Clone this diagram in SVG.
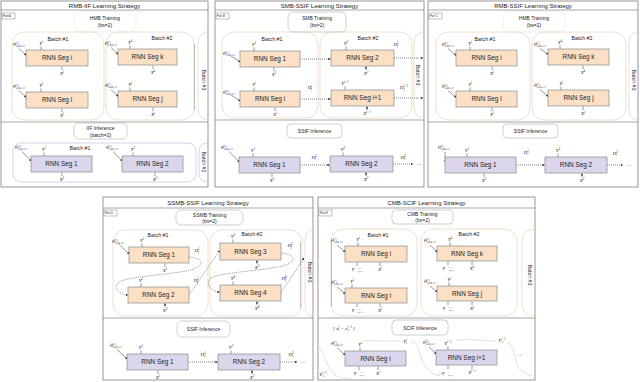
<svg xmlns="http://www.w3.org/2000/svg" width="640" height="382" viewBox="0 0 640 382">
<defs>
<style>
.pn{fill:#fff;stroke:#6b6b6b;stroke-width:.7}
.sep{stroke:#6b6b6b;stroke-width:.6}
.ob{fill:#fbe0c6;stroke:#8a8a8a;stroke-width:.7}
.pb{fill:#dcd6ec;stroke:#8a8a8a;stroke-width:.7}
.bt{fill:none;stroke:#e6cbab;stroke-width:.6}
.bp{fill:none;stroke:#bdb3dc;stroke-width:.6}
.be{stroke:#9a9a9a;stroke-width:.6}
.lb{fill:#fff;stroke:#b0b0b0;stroke-width:.6}
.lbd{fill:none;stroke:#d2d2d2;stroke-width:.6;stroke-dasharray:1.5 1}
.tgb{fill:#fff;stroke:#666;stroke-width:.4}
.t{font-family:"Liberation Sans",Arial,sans-serif;fill:#222;text-anchor:middle}
.nl{font-size:6.4px}
.ti{font-size:6px}
.bl{font-size:5.3px}
.tr{font-size:5px}
.tg{font-size:2.8px;text-anchor:start}
.m{font-family:"Liberation Serif","Times New Roman",serif;font-style:italic;font-size:5px;fill:#222;text-anchor:middle}
.th{font-family:"DejaVu Serif","Liberation Serif",serif;font-style:italic;font-size:4.6px;fill:#222;text-anchor:start}
.st{text-anchor:start}
.s{font-size:3.2px}
.ss{font-size:2.7px}
.ar{stroke:#333;stroke-width:.5;fill:none;marker-end:url(#ah)}
.dt{stroke:#333;stroke-width:.6;fill:none;stroke-dasharray:1 1;marker-end:url(#ah)}
.dc{stroke:#444;stroke-width:.5;fill:none;stroke-dasharray:1.2 .9}
.dca{stroke:#444;stroke-width:.5;fill:none;stroke-dasharray:1.2 .9;marker-end:url(#ah)}
.gc{stroke:#999;stroke-width:.45;fill:none;stroke-dasharray:1.5 .8}
</style>
<marker id="ah" viewBox="0 0 6 6" refX="5.5" refY="3" markerWidth="2.4" markerHeight="2.4" markerUnits="userSpaceOnUse" orient="auto"><path d="M0,0L6,3L0,6z" fill="#222"/></marker>
</defs>
<rect x="0" y="0" width="640" height="382" fill="#fff"/>

<g id="panels">
<rect class="pn" x="1" y="1" width="207" height="186"/>
<line class="sep" x1="1" y1="10" x2="208" y2="10"/>
<line class="sep" x1="1" y1="122" x2="208" y2="122"/>
<text class="t ti" x="104.5" y="7.6">RMB-IIF Learning Strategy</text>
<rect class="tgb" x="2" y="13" width="13" height="6"/><text class="t tg" x="3" y="17">Part A</text>

<rect class="pn" x="215" y="1" width="209" height="186"/>
<line class="sep" x1="215" y1="10" x2="424" y2="10"/>
<line class="sep" x1="215" y1="120" x2="424" y2="120"/>
<text class="t ti" x="319.5" y="7.6">SMB-SSIF Learning Strategy</text>
<rect class="tgb" x="216" y="13" width="13" height="6"/><text class="t tg" x="217" y="17">Part B</text>

<rect class="pn" x="428" y="1" width="210" height="186"/>
<line class="sep" x1="428" y1="10" x2="638" y2="10"/>
<line class="sep" x1="428" y1="122" x2="638" y2="122"/>
<text class="t ti" x="533" y="7.6">RMB-SSIF Learning Strategy</text>
<rect class="tgb" x="429" y="13" width="13" height="6"/><text class="t tg" x="430" y="17">Part C</text>

<rect class="pn" x="103" y="197" width="210" height="183"/>
<line class="sep" x1="103" y1="208" x2="313" y2="208"/>
<line class="sep" x1="103" y1="318" x2="313" y2="318"/>
<text class="t ti" x="208" y="204.6">SSMB-SSIF Learning Strategy</text>
<rect class="tgb" x="104" y="210" width="13" height="6"/><text class="t tg" x="105" y="214">Part D</text>

<rect class="pn" x="318" y="197" width="217" height="183"/>
<line class="sep" x1="318" y1="208" x2="535" y2="208"/>
<line class="sep" x1="318" y1="318" x2="535" y2="318"/>
<text class="t ti" x="426.5" y="204.6">CMB-SCIF Learning Strategy</text>
<rect class="tgb" x="319" y="210" width="13" height="6"/><text class="t tg" x="320" y="214">Part E</text>
</g>

<g id="phase-labels">
<rect class="lbd" x="74" y="11" width="62" height="21" rx="8"/>
<text class="t tr" x="105" y="20">HMB Training</text><text class="t tr" x="105" y="27">(bs=2)</text>
<rect class="lb" x="74" y="123" width="53" height="16" rx="5"/>
<text class="t tr" x="100.5" y="130">IIF Inference</text><text class="t tr" x="100.5" y="136.5">(batch=2)</text>

<rect class="lb" x="288" y="12" width="58" height="20" rx="5"/>
<text class="t tr" x="317" y="20">SMB Training</text><text class="t tr" x="317" y="27">(bs=2)</text>
<rect class="lb" x="287" y="124" width="55" height="14" rx="4"/>
<text class="t tr" x="314.5" y="132.8">SSIF Inference</text>

<rect class="lbd" x="503" y="11" width="62" height="21" rx="8"/>
<text class="t tr" x="534" y="20">HMB Training</text><text class="t tr" x="534" y="27">(bs=2)</text>
<rect class="lb" x="503" y="124" width="55" height="14" rx="4"/>
<text class="t tr" x="530.5" y="132.8">SSIF Inference</text>

<rect class="lb" x="176" y="210" width="67" height="15" rx="5"/>
<text class="t tr" x="209.5" y="216.5">SSMB Training</text><text class="t tr" x="209.5" y="222.5">(bs=2)</text>
<rect class="lb" x="177" y="321" width="53" height="16" rx="5"/>
<text class="t tr" x="203.5" y="330.8">SSIF Inference</text>

<rect class="lb" x="392" y="210" width="61" height="14" rx="4"/>
<text class="t tr" x="422.5" y="216">CMB Training</text><text class="t tr" x="422.5" y="222">(bs=2)</text>
<rect class="lb" x="392" y="320" width="56" height="15" rx="4"/>
<text class="t tr" x="420" y="329.5">SCIF Inference</text>
<text class="m st" x="333" y="329.5">[ x<tspan class="s" dy="-1.8">i</tspan><tspan class="s" dx="-1" dy="3">t</tspan><tspan dy="-1.2"> = x</tspan><tspan class="s" dy="-1.8">i−1</tspan><tspan class="s" dx="-4" dy="3">t</tspan><tspan dy="-1.2" dx="3"> ]</tspan></text>
</g>

<g id="batches">
<rect class="bt" x="12" y="32" width="92" height="88" rx="12"/>
<rect class="bt" x="106" y="32" width="88" height="88" rx="12"/>
<path class="bt" d="M208,32 Q198,32 198,44 L198,108 Q198,120 208,120"/>
<line class="be" x1="194.5" y1="44" x2="194.5" y2="110"/>
<text class="t bl" x="58" y="41">Batch #1</text>
<text class="t bl" x="162" y="40">Batch #2</text>
<text class="t bl" transform="translate(202,80) rotate(90)">Batch #3</text>
<rect class="bp" x="13" y="143" width="183" height="39" rx="8"/>
<path class="bp" d="M208,143 Q199,143 199,152 L199,173 Q199,182 208,182"/>
<text class="t bl" x="80" y="150">Batch #1</text>
<text class="t bl" transform="translate(202,162) rotate(90)">Batch #2</text>

<rect class="bt" x="222" y="32" width="96" height="86" rx="12"/>
<rect class="bt" x="320" y="32" width="92" height="86" rx="12"/>
<path class="bt" d="M424,32 Q414,32 414,44 L414,106 Q414,118 424,118"/>
<text class="t bl" x="272" y="41">Batch #1</text>
<text class="t bl" x="368" y="40">Batch #2</text>
<text class="t bl" transform="translate(416,75) rotate(90)">Batch #3</text>

<rect class="bt" x="436" y="32" width="94" height="88" rx="12"/>
<rect class="bt" x="532" y="32" width="94" height="88" rx="12"/>
<path class="bt" d="M638,32 Q629,32 629,44 L629,108 Q629,120 638,120"/>
<text class="t bl" x="485" y="41">Batch #1</text>
<text class="t bl" x="582" y="40">Batch #2</text>
<text class="t bl" transform="translate(632,80) rotate(90)">Batch #3</text>

<rect class="bt" x="113" y="230" width="95" height="86" rx="12"/>
<rect class="bt" x="210" y="230" width="92" height="86" rx="12"/>
<path class="bt" d="M313,230 Q305,230 305,242 L305,304 Q305,316 313,316"/>
<line class="be" x1="300.5" y1="242" x2="300.5" y2="308"/>
<text class="t bl" x="158" y="236.5">Batch #1</text>
<text class="t bl" x="252" y="236">Batch #2</text>
<text class="t bl" transform="translate(308,272) rotate(90)">Batch #3</text>

<rect class="bt" x="331" y="229" width="86" height="87" rx="12"/>
<rect class="bt" x="421" y="229" width="96" height="87" rx="12"/>
<path class="bt" d="M535,229 Q522,229 522,241 L522,304 Q522,316 535,316"/>
<line class="be" x1="331.5" y1="241" x2="331.5" y2="306"/>
<text class="t bl" x="378" y="237">Batch #1</text>
<text class="t bl" x="469" y="236">Batch #2</text>
<text class="t bl" transform="translate(528,275) rotate(90)">Batch #3</text>
</g>

<g id="connectors">
<path class="ar" d="M41,50V46.4M62,70.2V66.4M19,48.5L26.3,55.5"/>
<path class="ar" d="M41,92V88.4M62,112.2V108.4M19,90.5L26.3,97.5"/>
<path class="ar" d="M130,49V45.4M153,69.2V65.4M111,47.5L118.3,54.5"/>
<path class="ar" d="M130,91V87.4M153,111.2V107.4M111,89.5L118.3,96.5"/>
<path class="ar" d="M44,156V152.4M62,176.2V172.4M22,151.5L31.3,161"/>
<path class="ar" d="M133,156V152.4M155,176.2V172.4M113,151.5L122.3,161"/>
<path class="ar" d="M254,51V47.4M274,71.2V67.4M231,56L240.3,62"/>
<path class="ar" d="M346,50V46.4M366,70.2V66.4"/>
<path class="ar" d="M254,91V87.4M275,111.2V107.4M231,95L240.3,101"/>
<path class="ar" d="M345,90V86.4M367,110.2V106.4"/>
<path class="ar" d="M253,157V153.4M272,177.2V173.4M229,151.5L239.3,162"/>
<path class="ar" d="M343,156V152.4M366,176.2V172.4"/>
<path class="dt" d="M300,59H330.6"/><path class="dt" d="M394,58H423"/>
<path class="dt" d="M300,99H330.6"/><path class="dt" d="M394,98H423"/>
<path class="dt" d="M300,165H329.6"/><path class="dt" d="M393,164H413"/>
<path class="ar" d="M470,50V46.4M492,70.2V66.4M448,48.5L456.3,55.5"/>
<path class="ar" d="M560,49V45.4M583,69.2V65.4M540,48.5L548.3,54.5"/>
<path class="ar" d="M470,91V87.4M492,111.2V107.4M448,90.5L456.3,97.5"/>
<path class="ar" d="M561,90V86.4M583,110.2V106.4M540,89.5L548.3,96.5"/>
<path class="ar" d="M467,157V153.4M484,177.2V173.4M445,152L445.3,162"/>
<path class="ar" d="M558,157V153.4M582,177.2V173.4"/>
<path class="dt" d="M516,165H544.6"/><path class="dt" d="M607,165H623"/>
<path class="ar" d="M142,247V243.4M165,267.2V263.4M119,244.5L129.3,254"/>
<path class="ar" d="M141,287V283.4M165,307.2V303.4"/>
<path class="ar" d="M233,243V239.4M257,264.2V260.4"/>
<path class="ar" d="M233,285V281.4M257,305.2V301.4"/>
<path class="ar" d="M141,354V350.4M158,374.2V370.4M117,349.5L127.3,359"/>
<path class="ar" d="M231,354V350.4M252,374.2V370.4"/>
<path class="dca" d="M189,257 C204,258 206,266 190,270 C170,275 130,276 119,282 C113,286 117,294 128,295"/>
<path class="dca" d="M189,295 L219.6,250.5"/>
<path class="dca" d="M281,253 C296,254 298,262 282,266 C262,271 222,272 211,278 C205,282 209,291 219.6,292"/>
<path class="dca" d="M281,293 L304,258"/>
<path class="dt" d="M188,362H217.6"/><path class="dt" d="M280,362H297"/>
<path class="ar" d="M358,246V242.4M357,266.2V262.4M380,266.2V262.4M337,245L345.3,252"/>
<path class="ar" d="M450,246V242.4M448,265.2V261.4M472,265.2V261.4M430,245L437.3,252"/>
<path class="ar" d="M352,288V284.4M357,307.2V303.4M380,307.2V303.4M337,287L345.3,294"/>
<path class="ar" d="M449,286V282.4M448,305.2V301.4M472,305.2V301.4M430,286L437.3,292"/>
<path class="ar" d="M360,351V347.4M359,370.2V366.4M378,370.2V366.4M337,348L345.3,355"/>
<path class="ar" d="M448,350V346.4M448,369.2V365.4M472,369.2V365.4M429,347L436.3,354"/>
<path class="gc" d="M364,341 C380,340 390,342 400,341"/>
<path class="gc" d="M411,342 C420,342 418,356 424,364 C428,370 432,375 441,376"/>
<path class="gc" d="M456,340 C470,339 485,341 496,341"/>
<path class="gc" d="M508,343 C514,345 514,358 518,366 C522,372 526,375 533,376"/>
<path class="gc" d="M319,347 C324,352 326,366 333,373 C337,377 343,379 351,378"/>
</g>

<g id="nodes">
<g id="A-seg-i"><rect class="ob" x="26" y="50" width="62" height="16"/><text class="t nl" x="57" y="60.3">RNN Seg i</text>
<text class="m" x="41" y="45.2">Y<tspan class="s" dy="-2">i</tspan></text><text class="m" x="62" y="74.5">X<tspan class="s" dy="-2">i</tspan></text>
<text class="th" x="13" y="46">θ⃗<tspan class="ss" dy="1.3">[k,c]</tspan></text></g>
<g id="A-seg-l"><rect class="ob" x="26" y="92" width="62" height="16"/><text class="t nl" x="57" y="102.3">RNN Seg l</text>
<text class="m" x="41" y="87.2">Y<tspan class="s" dy="-2">l</tspan></text><text class="m" x="62" y="116.5">X<tspan class="s" dy="-2">l</tspan></text>
<text class="th" x="13" y="88">θ⃗<tspan class="ss" dy="1.3">[k,c]</tspan></text></g>
<g id="A-seg-k"><rect class="ob" x="118" y="49" width="59" height="16"/><text class="t nl" x="147.5" y="59.3">RNN Seg k</text>
<text class="m" x="130" y="44.2">Y<tspan class="s" dy="-2">k</tspan></text><text class="m" x="153" y="73.5">X<tspan class="s" dy="-2">k</tspan></text>
<text class="th" x="105" y="45">θ⃗<tspan class="ss" dy="1.3">[k,c]</tspan></text></g>
<g id="A-seg-j"><rect class="ob" x="118" y="91" width="59" height="16"/><text class="t nl" x="147.5" y="101.3">RNN Seg j</text>
<text class="m" x="130" y="86.2">Y<tspan class="s" dy="-2">j</tspan></text><text class="m" x="153" y="115.5">X<tspan class="s" dy="-2">j</tspan></text>
<text class="th" x="105" y="87">θ⃗<tspan class="ss" dy="1.3">[k,c]</tspan></text></g>
<g id="A-inf-seg-1"><rect class="pb" x="31" y="156" width="61" height="16"/><text class="t nl" x="61.5" y="166.3">RNN Seg 1</text>
<text class="m" x="44" y="151.2">Y<tspan class="s" dy="-2">1</tspan></text><text class="m" x="62" y="180.5">X<tspan class="s" dy="-2">1</tspan></text>
<text class="th" x="15" y="149">θ⃗<tspan class="ss" dy="1.3">[k,c]</tspan></text></g>
<g id="A-inf-seg-2"><rect class="pb" x="122" y="156" width="61" height="16"/><text class="t nl" x="152.5" y="166.3">RNN Seg 2</text>
<text class="m" x="133" y="151.2">Y<tspan class="s" dy="-2">2</tspan></text><text class="m" x="155" y="180.5">X<tspan class="s" dy="-2">2</tspan></text>
<text class="th" x="106" y="149">θ⃗<tspan class="ss" dy="1.3">[k,c]</tspan></text></g>

<g id="B-seg-1"><rect class="ob" x="240" y="51" width="60" height="16"/><text class="t nl" x="270" y="61.3">RNN Seg 1</text>
<text class="m" x="254" y="46.2">Y<tspan class="s" dy="-2">1</tspan></text><text class="m" x="274" y="75.5">X<tspan class="s" dy="-2">1</tspan></text>
<text class="th" x="223" y="54.5">θ⃗<tspan class="ss" dy="1.3">[k,c]</tspan></text></g>
<g id="B-seg-2"><rect class="ob" x="331" y="50" width="63" height="16"/><text class="t nl" x="362.5" y="60.3">RNN Seg 2</text>
<text class="m" x="346" y="45.2">Y<tspan class="s" dy="-2">2</tspan></text><text class="m" x="366" y="74.5">X<tspan class="s" dy="-2">2</tspan></text>
<text class="m" x="396" y="45.5">H<tspan class="s" dy="-2">1</tspan><tspan class="s" dx="-1.6" dy="3.4">f</tspan></text></g>
<g id="B-seg-i"><rect class="ob" x="240" y="91" width="60" height="16"/><text class="t nl" x="270" y="101.3">RNN Seg i</text>
<text class="m" x="254" y="86.2">Y<tspan class="s" dy="-2">i</tspan></text><text class="m" x="275" y="115.5">X<tspan class="s" dy="-2">i</tspan></text>
<text class="th" x="223" y="93.5">θ⃗<tspan class="ss" dy="1.3">[k,c]</tspan></text>
<text class="m" x="310" y="89">H<tspan class="s" dy="-2">i</tspan><tspan class="s" dx="-1.2" dy="3.4">f</tspan></text></g>
<g id="B-seg-i1"><rect class="ob" x="331" y="90" width="63" height="16"/><text class="t nl" x="362.5" y="100.3">RNN Seg i+1</text>
<text class="m" x="345" y="85.2">Y<tspan class="s" dy="-2">i+1</tspan></text><text class="m" x="367" y="114.5">X<tspan class="s" dy="-2">i+1</tspan></text>
<text class="m" x="404" y="89">H<tspan class="s" dy="-2">i+1</tspan><tspan class="s" dx="-4.2" dy="3.4">f</tspan></text></g>
<g id="B-inf-seg-1"><rect class="pb" x="239" y="157" width="61" height="16"/><text class="t nl" x="269.5" y="167.3">RNN Seg 1</text>
<text class="m" x="253" y="152.2">Y<tspan class="s" dy="-2">1</tspan></text><text class="m" x="272" y="181.5">X<tspan class="s" dy="-2">1</tspan></text>
<text class="th" x="221" y="149">θ⃗<tspan class="ss" dy="1.3">[k,c]</tspan></text>
<text class="m" x="314" y="159">H<tspan class="s" dy="-2">1</tspan><tspan class="s" dx="-1.6" dy="3.4">1</tspan></text></g>
<g id="B-inf-seg-2"><rect class="pb" x="330" y="156" width="63" height="16"/><text class="t nl" x="361.5" y="166.3">RNN Seg 2</text>
<text class="m" x="343" y="151.2">Y<tspan class="s" dy="-2">2</tspan></text><text class="m" x="366" y="180.5">X<tspan class="s" dy="-2">2</tspan></text>
<text class="m" x="403" y="158.5">H<tspan class="s" dy="-2">2</tspan><tspan class="s" dx="-1.6" dy="3.4">1</tspan></text>
<text class="t tr" x="419" y="165.5">···</text></g>

<g id="C-seg-i"><rect class="ob" x="456" y="50" width="61" height="16"/><text class="t nl" x="486.5" y="60.3">RNN Seg i</text>
<text class="m" x="470" y="45.2">Y<tspan class="s" dy="-2">i</tspan></text><text class="m" x="492" y="74.5">X<tspan class="s" dy="-2">i</tspan></text>
<text class="th" x="442" y="46">θ⃗<tspan class="ss" dy="1.3">[k,c]</tspan></text></g>
<g id="C-seg-k"><rect class="ob" x="548" y="49" width="61" height="16"/><text class="t nl" x="578.5" y="59.3">RNN Seg k</text>
<text class="m" x="560" y="44.2">Y<tspan class="s" dy="-2">k</tspan></text><text class="m" x="583" y="73.5">X<tspan class="s" dy="-2">k</tspan></text>
<text class="th" x="534" y="46">θ⃗<tspan class="ss" dy="1.3">[k,c]</tspan></text></g>
<g id="C-seg-l"><rect class="ob" x="456" y="91" width="61" height="16"/><text class="t nl" x="486.5" y="101.3">RNN Seg l</text>
<text class="m" x="470" y="86.2">Y<tspan class="s" dy="-2">l</tspan></text><text class="m" x="492" y="115.5">X<tspan class="s" dy="-2">l</tspan></text>
<text class="th" x="442" y="88">θ⃗<tspan class="ss" dy="1.3">[k,c]</tspan></text></g>
<g id="C-seg-j"><rect class="ob" x="548" y="90" width="61" height="16"/><text class="t nl" x="578.5" y="100.3">RNN Seg j</text>
<text class="m" x="561" y="85.2">Y<tspan class="s" dy="-2">j</tspan></text><text class="m" x="583" y="114.5">X<tspan class="s" dy="-2">j</tspan></text>
<text class="th" x="534" y="87">θ⃗<tspan class="ss" dy="1.3">[k,c]</tspan></text></g>
<g id="C-inf-seg-1"><rect class="pb" x="445" y="157" width="71" height="16"/><text class="t nl" x="480.5" y="167.3">RNN Seg 1</text>
<text class="m" x="467" y="152.2">Y<tspan class="s" dy="-2">1</tspan></text><text class="m" x="484" y="181.5">X<tspan class="s" dy="-2">1</tspan></text>
<text class="th" x="438" y="149">θ⃗<tspan class="ss" dy="1.3">[k,c]</tspan></text>
<text class="m" x="526" y="154">H<tspan class="s" dy="-2">1</tspan><tspan class="s" dx="-1.6" dy="3.4">1</tspan></text></g>
<g id="C-inf-seg-2"><rect class="pb" x="545" y="157" width="62" height="16"/><text class="t nl" x="576" y="167.3">RNN Seg 2</text>
<text class="m" x="558" y="152.2">Y<tspan class="s" dy="-2">2</tspan></text><text class="m" x="582" y="181.5">X<tspan class="s" dy="-2">2</tspan></text>
<text class="m" x="615" y="155">H<tspan class="s" dy="-2">2</tspan><tspan class="s" dx="-1.6" dy="3.4">1</tspan></text>
<text class="t tr" x="629" y="166.5">···</text></g>

<g id="D-seg-1"><rect class="ob" x="129" y="247" width="60" height="16"/><text class="t nl" x="159" y="257.3">RNN Seg 1</text>
<text class="m" x="142" y="242.2">Y<tspan class="s" dy="-2">1</tspan></text><text class="m" x="165" y="271.5">X<tspan class="s" dy="-2">1</tspan></text>
<text class="th" x="112" y="243">θ⃗<tspan class="ss" dy="1.3">[k,c]</tspan></text>
<text class="m" x="197" y="252">H<tspan class="s" dy="-2">1</tspan><tspan class="s" dx="-1.6" dy="3.4">f</tspan></text></g>
<g id="D-seg-2"><rect class="ob" x="128" y="287" width="61" height="16"/><text class="t nl" x="158.5" y="297.3">RNN Seg 2</text>
<text class="m" x="141" y="282.2">Y<tspan class="s" dy="-2">2</tspan></text><text class="m" x="165" y="311.5">X<tspan class="s" dy="-2">2</tspan></text>
<text class="m" x="196" y="282">H<tspan class="s" dy="-2">2</tspan><tspan class="s" dx="-1.6" dy="3.4">f</tspan></text></g>
<g id="D-seg-3"><rect class="ob" x="220" y="243" width="61" height="17"/><text class="t nl" x="250.5" y="253.8">RNN Seg 3</text>
<text class="m" x="233" y="238.2">Y<tspan class="s" dy="-2">3</tspan></text><text class="m" x="257" y="268.5">X<tspan class="s" dy="-2">3</tspan></text>
<text class="m" x="290" y="247">H<tspan class="s" dy="-2">3</tspan><tspan class="s" dx="-1.6" dy="3.4">f</tspan></text></g>
<g id="D-seg-4"><rect class="ob" x="220" y="285" width="61" height="16"/><text class="t nl" x="250.5" y="295.3">RNN Seg 4</text>
<text class="m" x="233" y="280.2">Y<tspan class="s" dy="-2">4</tspan></text><text class="m" x="257" y="309.5">X<tspan class="s" dy="-2">4</tspan></text>
<text class="m" x="284" y="280">H<tspan class="s" dy="-2">4</tspan><tspan class="s" dx="-1.6" dy="3.4">f</tspan></text></g>
<g id="D-inf-seg-1"><rect class="pb" x="127" y="354" width="61" height="16"/><text class="t nl" x="157.5" y="364.3">RNN Seg 1</text>
<text class="m" x="141" y="349.2">Y<tspan class="s" dy="-2">1</tspan></text><text class="m" x="158" y="378.5">X<tspan class="s" dy="-2">1</tspan></text>
<text class="th" x="110" y="347">θ⃗<tspan class="ss" dy="1.3">[k,c]</tspan></text>
<text class="m" x="203" y="356">H<tspan class="s" dy="-2">1</tspan><tspan class="s" dx="-1.6" dy="3.4">1</tspan></text></g>
<g id="D-inf-seg-2"><rect class="pb" x="218" y="354" width="62" height="16"/><text class="t nl" x="249" y="364.3">RNN Seg 2</text>
<text class="m" x="231" y="349.2">Y<tspan class="s" dy="-2">2</tspan></text><text class="m" x="252" y="378.5">X<tspan class="s" dy="-2">2</tspan></text>
<text class="m" x="291" y="356">H<tspan class="s" dy="-2">2</tspan><tspan class="s" dx="-1.6" dy="3.4">1</tspan></text>
<text class="t tr" x="303" y="363.5">···</text></g>

<g id="E-seg-i"><rect class="ob" x="345" y="246" width="62" height="16"/><text class="t nl" x="376" y="256.3">RNN Seg i</text>
<text class="m" x="358" y="241.2">Y<tspan class="s" dy="-2">i</tspan></text>
<text class="m" x="357" y="271">Y⃗<tspan class="ss" dy="-2">i−1</tspan><tspan class="ss" dx="-4" dy="3.2">s[T]</tspan></text>
<text class="m" x="380" y="270.5">X<tspan class="s" dy="-2">i</tspan></text>
<text class="th" x="331" y="242">θ⃗<tspan class="ss" dy="1.3">[k,c]</tspan></text></g>
<g id="E-seg-k"><rect class="ob" x="437" y="246" width="60" height="15"/><text class="t nl" x="467" y="255.8">RNN Seg k</text>
<text class="m" x="450" y="241.2">Y<tspan class="s" dy="-2">k</tspan></text>
<text class="m" x="448" y="270">Y⃗<tspan class="ss" dy="-2">k−1</tspan><tspan class="ss" dx="-4" dy="3.2">s[T]</tspan></text>
<text class="m" x="472" y="269.5">X<tspan class="s" dy="-2">k</tspan></text>
<text class="th" x="424" y="242">θ⃗<tspan class="ss" dy="1.3">[k,c]</tspan></text></g>
<g id="E-seg-l"><rect class="ob" x="345" y="288" width="62" height="15"/><text class="t nl" x="376" y="297.8">RNN Seg l</text>
<text class="m" x="352" y="283.2">Y<tspan class="s" dy="-2">l</tspan></text>
<text class="m" x="357" y="312">Y⃗<tspan class="ss" dy="-2">l−1</tspan><tspan class="ss" dx="-4" dy="3.2">s[T]</tspan></text>
<text class="m" x="380" y="311.5">X<tspan class="s" dy="-2">l</tspan></text>
<text class="th" x="331" y="284">θ⃗<tspan class="ss" dy="1.3">[k,c]</tspan></text></g>
<g id="E-seg-j"><rect class="ob" x="437" y="286" width="60" height="15"/><text class="t nl" x="467" y="295.8">RNN Seg j</text>
<text class="m" x="449" y="281.2">Y<tspan class="s" dy="-2">j</tspan></text>
<text class="m" x="448" y="310">Y⃗<tspan class="ss" dy="-2">j−1</tspan><tspan class="ss" dx="-4" dy="3.2">s[T]</tspan></text>
<text class="m" x="472" y="309.5">X<tspan class="s" dy="-2">j</tspan></text>
<text class="th" x="424" y="283">θ⃗<tspan class="ss" dy="1.3">[k,c]</tspan></text></g>
<g id="E-inf-seg-i"><rect class="pb" x="345" y="351" width="61" height="15"/><text class="t nl" x="375.5" y="360.8">RNN Seg i</text>
<text class="m" x="360" y="346.2">Y<tspan class="s" dy="-2">i</tspan></text>
<text class="m" x="359" y="375">Y⃗<tspan class="ss" dy="-2">i−1</tspan><tspan class="ss" dx="-4" dy="3.2">s[T]</tspan></text>
<text class="m" x="378" y="374.5">X<tspan class="s" dy="-2">i</tspan></text>
<text class="th" x="331" y="345">θ⃗<tspan class="ss" dy="1.3">[k,c]</tspan></text>
<text class="m" x="405" y="343">Y<tspan class="s" dy="-2">i</tspan><tspan class="s" dx="-1.2" dy="3.2">s</tspan></text>
<text class="m" x="323" y="376">Y<tspan class="s" dy="-2">i−1</tspan><tspan class="s" dx="-4" dy="3.2">s</tspan></text></g>
<g id="E-inf-seg-i1"><rect class="pb" x="436" y="350" width="61" height="15"/><text class="t nl" x="466.5" y="359.8">RNN Seg i+1</text>
<text class="m" x="448" y="345.2">Y<tspan class="s" dy="-2">i+1</tspan></text>
<text class="m" x="446" y="374.5">−Y⃗<tspan class="ss" dy="-2">i</tspan><tspan class="ss" dx="-1" dy="3.2">s[T']</tspan></text>
<text class="m" x="472" y="373.5">X<tspan class="s" dy="-2">i+1</tspan></text>
<text class="th" x="423" y="344">θ⃗<tspan class="ss" dy="1.3">[k,c]</tspan></text>
<text class="m" x="502" y="342">Y<tspan class="s" dy="-2">i+1</tspan><tspan class="s" dx="-4" dy="3.2">s</tspan></text>
<text class="t tr" x="520" y="356.5">···</text></g>
</g>
</svg>
